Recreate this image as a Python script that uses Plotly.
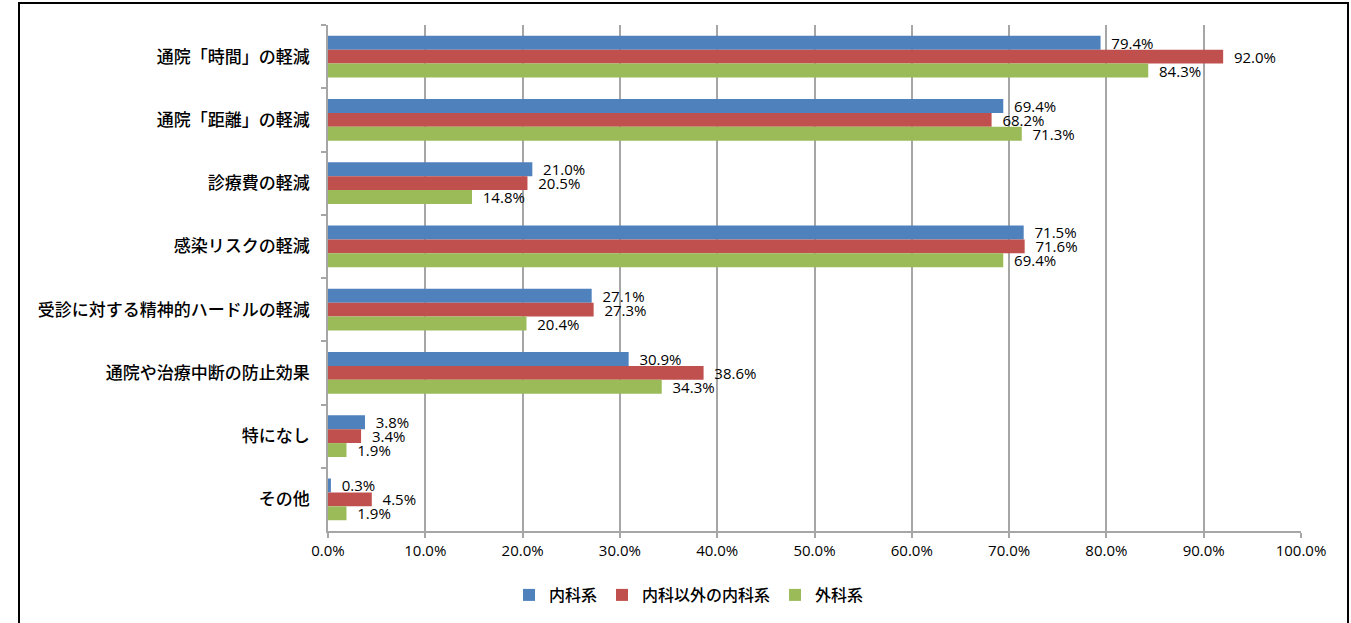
import plotly.graph_objects as go

categories = ["通院「時間」の軽減", "通院「距離」の軽減", "診療費の軽減", "感染リスクの軽減",
              "受診に対する精神的ハードルの軽減", "通院や治療中断の防止効果", "特になし", "その他"]
series_names = ["内科系", "内科以外の内科系", "外科系"]
naika = [79.4, 69.4, 21.0, 71.5, 27.1, 30.9, 3.8, 0.3]
naika_igai = [92.0, 68.2, 20.5, 71.6, 27.3, 38.6, 3.4, 4.5]
geka = [84.3, 71.3, 14.8, 69.4, 20.4, 34.3, 1.9, 1.9]
colors = ["#4F81BD", "#C0504D", "#9BBB59"]
x_ticks = [0, 10, 20, 30, 40, 50, 60, 70, 80, 90, 100]

W, H = 1351, 623
L, R, T, B = 328, 50, 25, 91
pw = W - L - R
ph = H - T - B

fig = go.Figure()
for name, vals, c in zip(series_names, [naika, naika_igai, geka], colors):
    fig.add_trace(go.Bar(
        y=categories, x=vals, name=name, orientation="h",
        marker=dict(color=c, line=dict(width=0)),
        texttemplate="\u00a0\u00a0%{x:.1f}%", textposition="outside",
        textfont=dict(size=15, color="#000000", family="Open Sans, Noto Sans CJK JP"),
        constraintext="none", cliponaxis=False,
    ))

def px_to_paper_x(px):
    return (px - L) / pw

def px_to_paper_y(py):
    return (H - B - py) / ph

fig.add_shape(type="rect", xref="paper", yref="paper",
              x0=px_to_paper_x(19), x1=px_to_paper_x(1348),
              y0=px_to_paper_y(640), y1=px_to_paper_y(3),
              line=dict(color="#000000", width=2), fillcolor="rgba(0,0,0,0)", layer="below")

fig.update_layout(
    width=W, height=H,
    margin=dict(l=L, r=R, t=T, b=B),
    paper_bgcolor="white", plot_bgcolor="white",
    barmode="group", bargap=0.34, bargroupgap=0,
    font=dict(family="Noto Sans CJK JP", color="#000000"),
    showlegend=True,
    legend=dict(orientation="h", x=px_to_paper_x(689), xanchor="center",
                y=px_to_paper_y(595), yanchor="middle",
                font=dict(size=16, family="Noto Sans CJK JP", weight=500),
                itemwidth=30, traceorder="normal"),
)
fig.update_xaxes(range=[0, 100], tickvals=x_ticks, ticktext=[f"{v:.1f}%" for v in x_ticks],
                 showgrid=True, gridcolor="#A6A6A6", gridwidth=1.5,
                 showline=True, linecolor="#A6A6A6", linewidth=1.5,
                 ticks="outside", ticklen=5, tickcolor="#A6A6A6", tickwidth=1.5,
                 tickfont=dict(size=15, family="Open Sans, Noto Sans CJK JP", color="#000000"),
                 zeroline=False, fixedrange=True)
fig.update_yaxes(autorange="reversed", showline=True, linecolor="#A6A6A6", linewidth=1.5,
                 ticks="outside", ticklen=5, tickcolor="#A6A6A6", tickwidth=1.5,
                 tickson="boundaries", showgrid=False,
                 tickfont=dict(size=17, family="Noto Sans CJK JP", color="#000000", weight=500),
                 ticklabelstandoff=13, fixedrange=True)

fig.write_html("out.html", config={"displayModeBar": False},
               post_script="document.body.style.margin='0';")
